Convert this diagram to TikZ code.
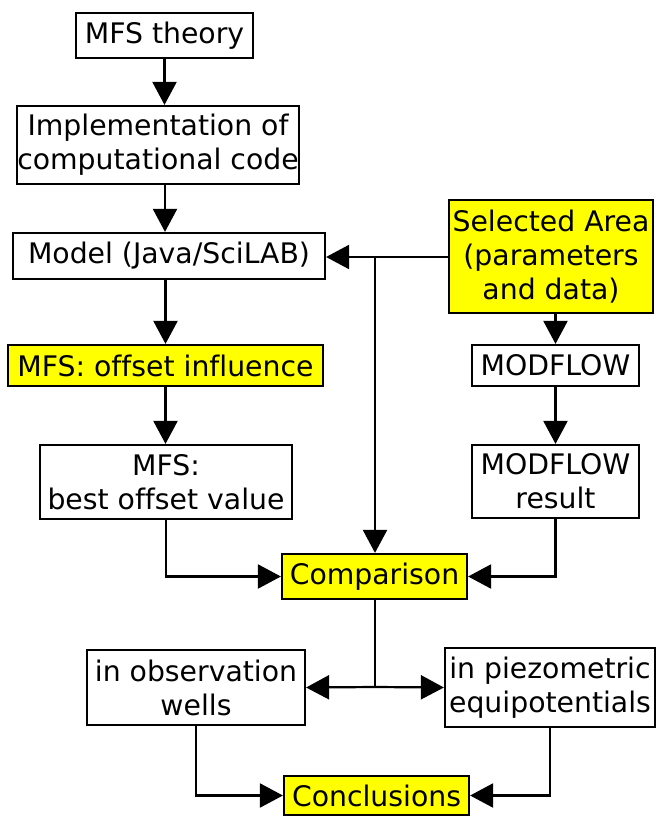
\documentclass[tikz,border=0pt]{standalone}
\usepackage{fontspec}
\setmainfont[Ligatures=NoCommon]{DejaVu Sans}
\usetikzlibrary{arrows.meta}
\definecolor{hilite}{RGB}{255,255,0}
\begin{document}
\begin{tikzpicture}[x=1pt,y=-1pt,
  box/.style={draw=black,line width=2.2pt,fill=white,inner sep=0pt,align=center,
    font=\fontsize{28.3}{34}\selectfont},
  keybox/.style={box,fill=hilite},
  flow/.style={line width=2.2pt,-{Triangle[length=23pt,width=24pt]}},
  link/.style={line width=2.2pt}]
\useasboundingbox (0,0) rectangle (657,816);

% left column: MFS chain
\node[box,minimum width=177pt,minimum height=45pt] (theory) at (164.5,35.5) {MFS theory};
\node[box,minimum width=282pt,minimum height=78pt] (impl) at (158,145) {Implementation of\\computational code};
\node[box,minimum width=312pt,minimum height=46pt] (model) at (169,256) {Model (Java/SciLAB)};
\node[keybox,minimum width=315pt,minimum height=41pt] (offset) at (165.5,365.5) {MFS: offset influence};
\node[box,minimum width=252pt,minimum height=74pt] (best) at (166,482) {MFS:\\best offset value};

% right column: field data and MODFLOW
\node[keybox,minimum width=204pt,minimum height=113pt] (area) at (551,256.5) {Selected Area\\(parameters\\and data)};
\node[box,minimum width=167pt,minimum height=41pt] (modflow) at (555.5,365.5) {MODFLOW};
\node[box,minimum width=167pt,minimum height=73pt] (result) at (555.5,481.5) {MODFLOW\\result};

% comparison and outcomes
\node[keybox,minimum width=185pt,minimum height=45pt] (comp) at (374.5,576.5) {Comparison};
\node[box,minimum width=218pt,minimum height=75pt] (obs) at (196,687.5) {in observation\\wells};
\node[box,minimum width=210pt,minimum height=79pt] (piezo) at (550,687.5) {in piezometric\\equipotentials};
\node[keybox,minimum width=185pt,minimum height=39pt] (concl) at (376.5,795.5) {Conclusions};

% junctions
\coordinate (split) at (375,257);
\coordinate (fork) at (375,687);

% connectors
\draw[flow] (theory.south) -- (theory.south |- impl.north);
\draw[flow] (impl.south -| 165,0) -- (model.north -| 165,0);
\draw[flow] (offset.north |- model.south) -- (offset.north);
\draw[flow] (offset.south) -- (offset.south |- best.north);

\draw[flow] (area.west |- split) -- (model.east |- split);
\draw[flow] (split) -- (split |- comp.north);
\draw[flow] (modflow.north |- area.south) -- (modflow.north);
\draw[flow] (modflow.south) -- (result.north);

\draw[flow] (best.south) |- (comp.west);
\draw[flow] (result.south) |- (comp.east);

\draw[link] (comp.south -| fork) -- (fork);
\draw[flow] (fork) -- (obs.east);
\draw[flow] (fork) -- (piezo.west);

\draw[flow] (obs.south) |- (concl.west);
\draw[flow] (piezo.south) |- (concl.east);
\end{tikzpicture}
\end{document}
